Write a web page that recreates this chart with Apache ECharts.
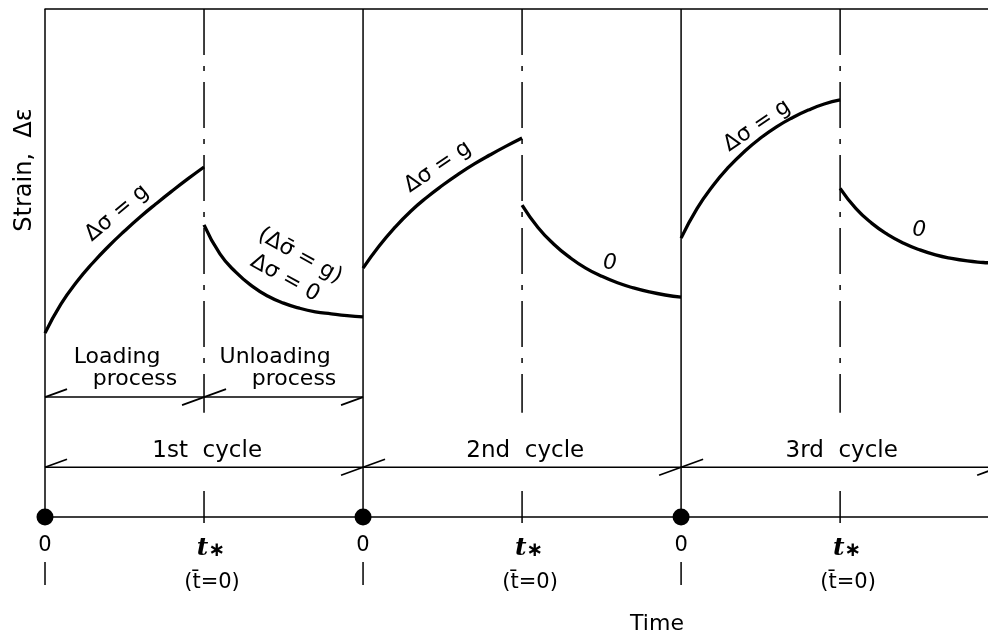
<!DOCTYPE html>
<html>
<head>
<meta charset="utf-8">
<script src="https://cdn.jsdelivr.net/npm/echarts@6/dist/echarts.min.js"></script>
<style>
  html, body { margin: 0; padding: 0; background: #fff; }
  #chart { width: 988px; height: 640px; }
</style>
</head>
<body>
<div id="chart"></div>
<script>
// Time axis: each cycle lasts 2 units, loading on [0, t*], unloading on [t*, 2t*]
const cycleStarts = [0, 2, 4];
const unloadStarts = [1, 3, 5];
const tickLabels = ['0', 't*', '0', 't*', '0', 't*'];
const tickNotes = ['', '(t̄=0)', '', '(t̄=0)', '', '(t̄=0)'];
const cycleNames = ['1st  cycle', '2nd  cycle', '3rd  cycle'];

// Strain response, [time, strain]
const loading1 = [[0,3.62],[0.1,4.19],[0.2,4.63],[0.3,5.00],[0.4,5.33],[0.5,5.63],[0.6,5.91],[0.7,6.17],[0.8,6.42],[0.9,6.66],[1.0,6.89]];
const unloading1 = [[1.0,5.75],[1.1,5.18],[1.2,4.82],[1.3,4.55],[1.4,4.35],[1.5,4.21],[1.6,4.11],[1.7,4.04],[1.8,4.00],[1.9,3.965],[2.0,3.94]];
const loading2 = [[2.0,4.90],[2.1,5.33],[2.2,5.70],[2.3,6.02],[2.4,6.29],[2.5,6.53],[2.6,6.75],[2.7,6.95],[2.8,7.13],[2.9,7.30],[3.0,7.46]];
const unloading2 = [[3.0,6.14],[3.1,5.70],[3.2,5.37],[3.3,5.11],[3.4,4.90],[3.5,4.74],[3.6,4.61],[3.7,4.51],[3.8,4.43],[3.9,4.37],[4.0,4.33]];
const loading3 = [[4.0,5.49],[4.1,6.07],[4.2,6.52],[4.3,6.89],[4.4,7.20],[4.5,7.46],[4.6,7.68],[4.7,7.86],[4.8,8.01],[4.9,8.13],[5.0,8.21]];
const unloading3 = [[5.0,6.47],[5.1,6.07],[5.2,5.78],[5.3,5.56],[5.4,5.39],[5.5,5.26],[5.6,5.16],[5.7,5.09],[5.8,5.04],[5.9,5.01],[5.93,5.005]];

const T_MAX = 5.93, EPS_MAX = 10;
const processLevel = 2.36;   // loading / unloading dimension line
const cycleLevel = 0.98;     // cycle dimension line
const dashTop = EPS_MAX, dashBottom = 2.05;

const INK = '#000';
const THIN = 1.5;
const FONT = '"DejaVu Sans", "Liberation Sans", sans-serif';

const chart = echarts.init(document.getElementById('chart'), null, { renderer: 'canvas' });

function seg(x1, y1, x2, y2, extra) {
  return Object.assign({
    type: 'line',
    shape: { x1, y1, x2, y2 },
    style: { stroke: INK, lineWidth: THIN, fill: null }
  }, extra || {});
}

function curve(name, data) {
  return {
    name, type: 'line', data,
    showSymbol: false, smooth: 0.5,
    lineStyle: { color: INK, width: 3.3 },
    silent: true, z: 5
  };
}

// Oblique dimension ticks: -1 = start of a dimension, 0 = through, 1 = end
const SL = [22, -8];
function slashes(name, level, positions, kinds) {
  return {
    name, type: 'custom', clip: false, silent: true,
    data: positions.map((t, i) => [t, level, kinds[i]]),
    renderItem: (params, api) => {
      const p = api.coord([api.value(0), api.value(1)]);
      const k = api.value(2);
      const a = k === -1 ? 0 : -1, b = k === 1 ? 0 : 1;
      return seg(p[0] + SL[0] * a, p[1] + SL[1] * a, p[0] + SL[0] * b, p[1] + SL[1] * b,
                 { style: { stroke: INK, lineWidth: 1.7 } });
    }
  };
}

const option = {
  backgroundColor: '#fff',
  animation: false,
  grid: { left: 45, right: 0, top: 9, bottom: 123 },
  xAxis: [{
    type: 'value', min: 0, max: T_MAX, interval: 1, position: 'bottom',
    axisLine: { show: true, lineStyle: { color: INK, width: THIN } },
    axisTick: { show: false },
    splitLine: { show: false },
    axisLabel: {
      margin: 18, showMaxLabel: false, color: INK,
      formatter: v => {
        const i = Math.round(v);
        if (Math.abs(v - i) > 1e-6 || !tickLabels[i]) return '';
        const lab = tickLabels[i];
        if (lab.indexOf('*') < 0) return '{zero|' + lab + '}';
        return '{t|' + lab.replace('*', '') + '}{star|∗}\n{note|' + tickNotes[i] + '}';
      },
      rich: {
        zero: { fontFamily: FONT, fontSize: 21, lineHeight: 22, color: INK },
        t: { fontFamily: '"DejaVu Serif", serif', fontStyle: 'italic', fontWeight: 'bold', fontSize: 25, lineHeight: 26, color: INK, padding: [0, 0, 0, 14] },
        star: { fontFamily: FONT, fontWeight: 'bold', fontSize: 20, lineHeight: 26, color: INK, verticalAlign: 'bottom', padding: [10, 0, 0, 0] },
        note: { fontFamily: FONT, fontSize: 21, lineHeight: 30, color: INK, padding: [14, 0, 0, 16] }
      }
    }
  }, {
    type: 'value', min: 0, max: T_MAX, position: 'top',
    axisLine: { show: true, lineStyle: { color: INK, width: THIN } },
    axisTick: { show: false }, axisLabel: { show: false }, splitLine: { show: false }
  }],
  yAxis: {
    type: 'value', min: 0, max: EPS_MAX,
    axisLine: { show: false }, axisTick: { show: false },
    axisLabel: { show: false }, splitLine: { show: false }
  },
  series: [
    curve('loading 1', loading1),
    curve('unloading 1', unloading1),
    curve('loading 2', loading2),
    curve('unloading 2', unloading2),
    curve('loading 3', loading3),
    curve('unloading 3', unloading3),
    {
      // reloading instants: full-height solid lines and short ticks under the labels
      name: 'cycle starts', type: 'custom', clip: false, silent: true,
      data: cycleStarts.map(t => [t]),
      renderItem: (params, api) => {
        const lo = api.coord([api.value(0), 0]);
        const hi = api.coord([api.value(0), EPS_MAX]);
        return { type: 'group', children: [
          seg(lo[0], lo[1], hi[0], hi[1]),
          seg(lo[0], lo[1] + 45, lo[0], lo[1] + 68)
        ] };
      }
    },
    {
      // unloading instants: dash-dot lines and axis ticks
      name: 'unload starts', type: 'custom', clip: false, silent: true,
      data: unloadStarts.map(t => [t]),
      renderItem: (params, api) => {
        const a = api.coord([api.value(0), dashTop]);
        const b = api.coord([api.value(0), dashBottom]);
        const o = api.coord([api.value(0), 0]);
        return { type: 'group', children: [
          seg(a[0], a[1], b[0], b[1], { style: { stroke: INK, lineWidth: THIN, lineDash: [46, 11, 5, 11] } }),
          seg(o[0], o[1] - 26, o[0], o[1] + 6)
        ] };
      }
    },
    {
      // dimension lines
      name: 'dimensions', type: 'custom', clip: false, silent: true,
      data: [[0, 2, processLevel], [0, T_MAX, cycleLevel]],
      renderItem: (params, api) => {
        const a = api.coord([api.value(0), api.value(2)]);
        const b = api.coord([api.value(1), api.value(2)]);
        return seg(a[0], a[1], b[0], b[1]);
      }
    },
    slashes('process ticks', processLevel, [0, 1, 2], [-1, 0, 1]),
    slashes('cycle ticks', cycleLevel, [0, 2, 4, 6], [-1, 0, 0, 0]),
    {
      name: 'reload points', type: 'scatter', clip: false, silent: true,
      data: cycleStarts.map(t => [t, 0]),
      symbol: 'circle', symbolSize: 17,
      itemStyle: { color: INK, opacity: 1 }, z: 6
    }
  ]
};

chart.setOption(option);

// Annotations anchored in data coordinates: [time, strain]
const notes = [
  { text: 'Loading', at: [0.453, 3.15] },
  { text: 'process', at: [0.566, 2.72] },
  { text: 'Unloading', at: [1.447, 3.15] },
  { text: 'process', at: [1.566, 2.72] },
  { text: cycleNames[0], at: [1.02, 1.30], size: 23 },
  { text: cycleNames[1], at: [3.02, 1.30], size: 23 },
  { text: cycleNames[2], at: [5.01, 1.30], size: 23 },
  { text: 'Δσ = g', at: [0.453, 5.98], rot: 40 },
  { text: 'Δσ = g', at: [2.47, 6.89], rot: 34 },
  { text: 'Δσ = g', at: [4.478, 7.70], rot: 34 },
  { text: '(Δσ̄ = g)', at: [1.604, 5.14], rot: -29 },
  { text: 'Δσ = 0', at: [1.509, 4.70], rot: -29 },
  { text: '0', at: [3.553, 5.00], italic: true },
  { text: '0', at: [5.497, 5.65], italic: true }
];

const graphic = notes.map(n => {
  const p = chart.convertToPixel({ xAxisIndex: 0, yAxisIndex: 0 }, n.at);
  return {
    type: 'text', x: p[0], y: p[1],
    rotation: (n.rot || 0) * Math.PI / 180,
    silent: true, z: 10,
    style: {
      text: n.text, fill: INK,
      font: (n.italic ? 'italic ' : '') + (n.size || 22) + 'px ' + FONT,
      align: 'center', verticalAlign: 'middle',
      textAlign: 'center', textVerticalAlign: 'middle'
    }
  };
});

graphic.push({
  type: 'text', x: 25, y: 170, rotation: Math.PI / 2, silent: true,
  style: { text: 'Strain,  Δε', fill: INK, font: '24px ' + FONT,
           align: 'center', verticalAlign: 'middle', textAlign: 'center', textVerticalAlign: 'middle' }
});
graphic.push({
  type: 'text', x: 657, y: 624, silent: true,
  style: { text: 'Time', fill: INK, font: '22px ' + FONT,
           align: 'center', verticalAlign: 'middle', textAlign: 'center', textVerticalAlign: 'middle' }
});

chart.setOption({ graphic });
</script>
</body>
</html>
